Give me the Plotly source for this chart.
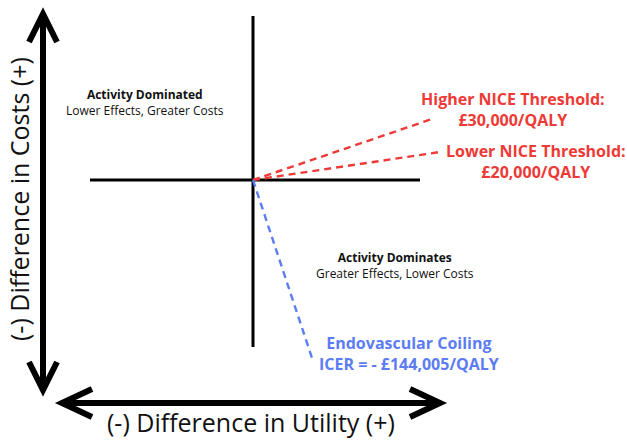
import plotly.graph_objects as go

# ---- data (cost-effectiveness plane, schematic units; origin = no difference) ----
threshold_labels = ["Higher NICE Threshold:<br>£30,000/QALY", "Lower NICE Threshold:<br>£20,000/QALY"]
threshold_utility = [1.79, 1.87]      # end of each threshold ray (Δ utility)
threshold_cost = [0.61, 0.28]         # end of each threshold ray (Δ cost)

icer_label = ["Endovascular Coiling<br>ICER = - £144,005/QALY"]
icer_utility = [0.59]
icer_cost = [-1.78]

quadrant_titles = ["Activity Dominated", "Activity Dominates"]
quadrant_subtitles = ["Lower Effects, Greater Costs", "Greater Effects, Lower Costs"]
quadrant_utility = [-1.08, 1.42]
quadrant_cost = [0.78, -0.85]

x_title = "(-) Difference in Utility (+)"
y_title = "(-) Difference in Costs (+)"

RED = "#ee3a36"
BLUE = "#5c7cf4"
FONT = "Open Sans"

# map a pixel of the 627x440 canvas to plane units (for decorative arrows)
def P(px, py):
    return (px - 253) / 100.0, (180 - py) / 100.0

fig = go.Figure()

# threshold rays
for u, c in zip(threshold_utility, threshold_cost):
    fig.add_trace(go.Scatter(x=[0, u], y=[0, c], mode="lines",
                             line=dict(color=RED, width=2.4, dash="7px,5px"),
                             hoverinfo="skip", showlegend=False))
# ICER ray
fig.add_trace(go.Scatter(x=[0, icer_utility[0]], y=[0, icer_cost[0]], mode="lines",
                         line=dict(color=BLUE, width=2.4, dash="7px,5px"),
                         hoverinfo="skip", showlegend=False))

shapes = []
# quadrant axes
x0, y0 = P(253, 16); x1, y1 = P(253, 347)
shapes.append(dict(type="line", x0=x0, y0=y0, x1=x1, y1=y1, line=dict(color="black", width=3), layer="below"))
x0, y0 = P(90, 180); x1, y1 = P(420, 180)
shapes.append(dict(type="line", x0=x0, y0=y0, x1=x1, y1=y1, line=dict(color="black", width=3), layer="below"))

def path(points):
    pts = [P(*p) for p in points]
    return "M " + " L ".join(f"{a:.4f},{b:.4f}" for a, b in pts)

arrow_line = dict(color="black", width=6)
# vertical double arrow
shapes.append(dict(type="path", path=path([(43, 14), (43, 390)]), line=arrow_line))
shapes.append(dict(type="path", path=path([(29, 42), (43, 14), (57, 42)]), line=arrow_line))
shapes.append(dict(type="path", path=path([(29, 362), (43, 390), (57, 362)]), line=arrow_line))
# horizontal double arrow
shapes.append(dict(type="path", path=path([(62, 403), (440, 403)]), line=arrow_line))
shapes.append(dict(type="path", path=path([(92, 389), (62, 403), (92, 417)]), line=arrow_line))
shapes.append(dict(type="path", path=path([(410, 389), (440, 403), (410, 417)]), line=arrow_line))

annotations = []
# threshold labels
lbl_pos = [(513, 109), (536, 161)]
for t, (px, py) in zip(threshold_labels, lbl_pos):
    ax_, ay_ = P(px, py)
    annotations.append(dict(x=ax_, y=ay_, text=f"<b>{t}</b>", showarrow=False,
                            font=dict(family=FONT, size=16, color=RED), align="center"))
ax_, ay_ = P(409, 353)
annotations.append(dict(x=ax_, y=ay_, text=f"<b>{icer_label[0]}</b>", showarrow=False,
                        font=dict(family=FONT, size=16, color=BLUE), align="center"))
# quadrant texts
for tt, st, u, c in zip(quadrant_titles, quadrant_subtitles, quadrant_utility, quadrant_cost):
    annotations.append(dict(x=u, y=c, text=f"<b>{tt}</b><br>{st}", showarrow=False,
                            font=dict(family=FONT, size=12, color="#111111"), align="center"))
# axis titles
ax_, ay_ = P(251, 422)
annotations.append(dict(x=ax_, y=ay_, text=x_title, showarrow=False,
                        font=dict(family=FONT, size=25, color="#111111")))
ax_, ay_ = P(19, 199)
annotations.append(dict(x=ax_, y=ay_, text=y_title, showarrow=False, textangle=-90,
                        font=dict(family=FONT, size=25, color="#111111")))

fig.update_layout(
    width=627, height=440,
    margin=dict(l=0, r=0, t=0, b=0),
    paper_bgcolor="white", plot_bgcolor="white",
    xaxis=dict(range=[-2.53, 3.74], visible=False, fixedrange=True),
    yaxis=dict(range=[-2.60, 1.80], visible=False, fixedrange=True),
    shapes=shapes, annotations=annotations, showlegend=False,
)

fig.write_html("out.html", config={"displayModeBar": False},
               post_script="document.body.style.margin='0';document.body.style.overflow='hidden';")
